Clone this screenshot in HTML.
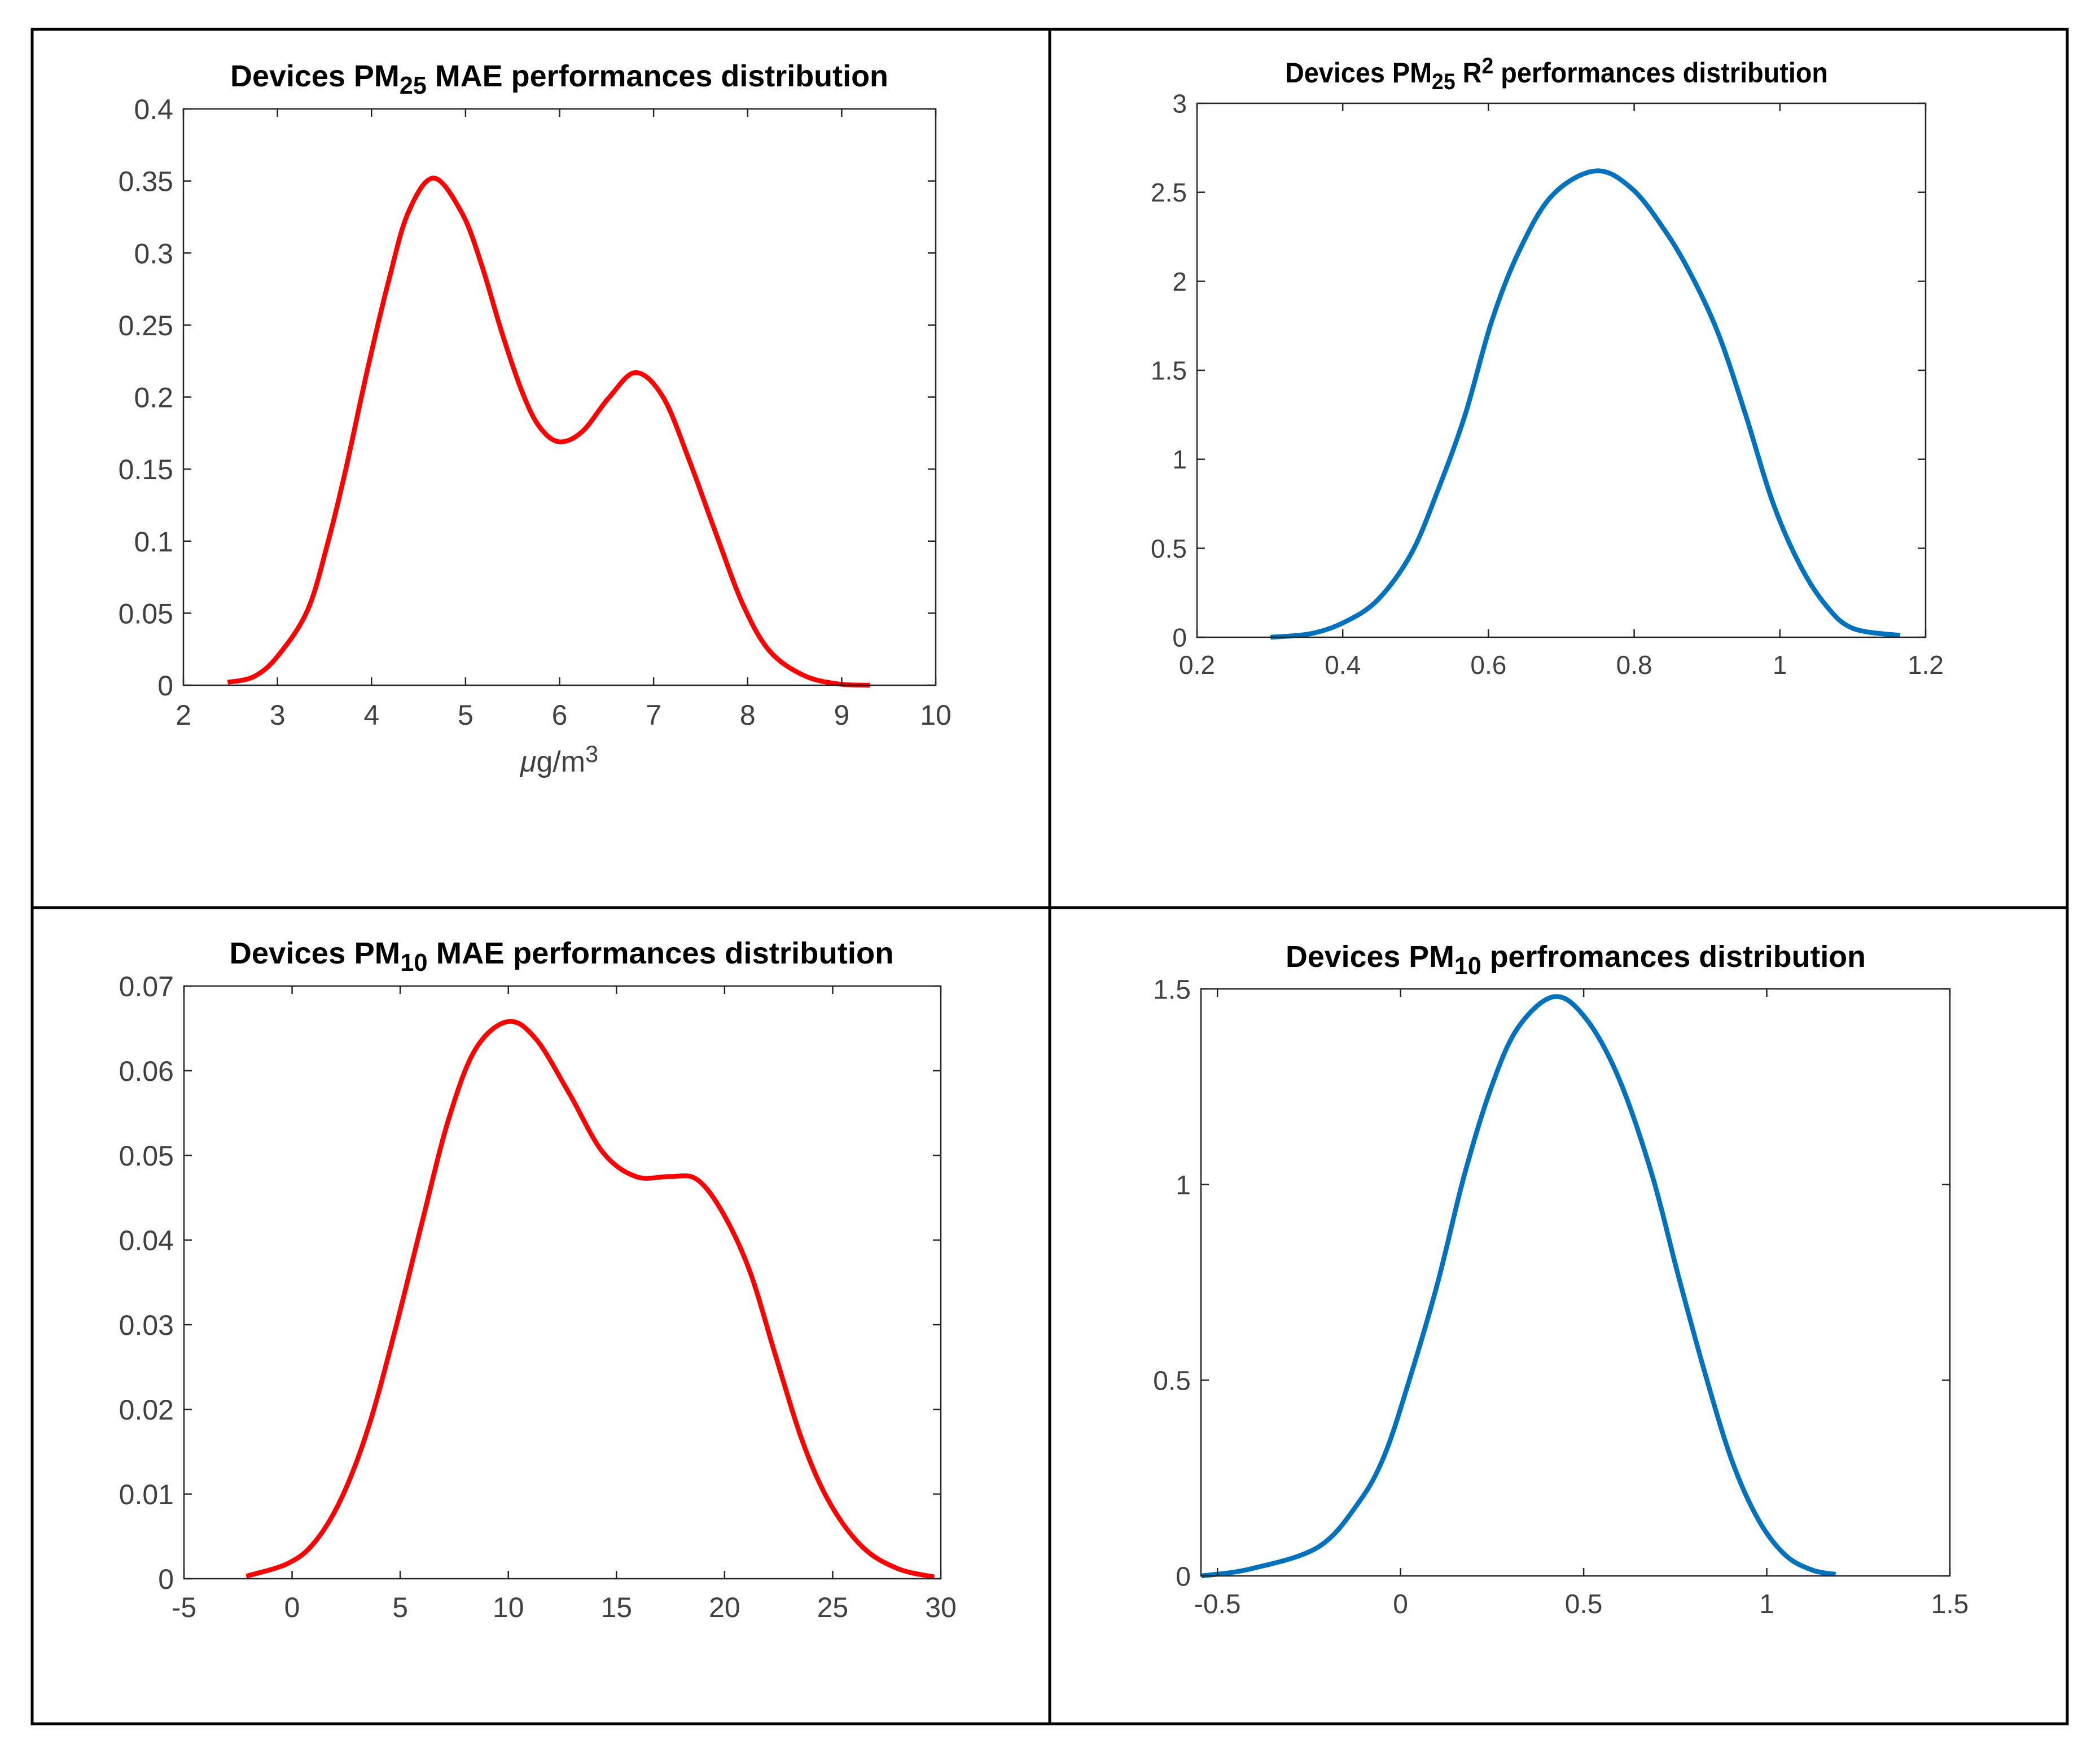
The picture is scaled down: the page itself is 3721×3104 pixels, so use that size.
<!DOCTYPE html>
<html><head><meta charset="utf-8"><style>
html,body{margin:0;padding:0;background:#fff}
svg{display:block}
text{font-family:"Liberation Sans",Arial,sans-serif}
</style></head><body>
<svg id="fig" xmlns="http://www.w3.org/2000/svg" width="3721" height="3104" viewBox="0 0 3721 3104">
<rect x="0" y="0" width="3721" height="3104" fill="#fff"/>
<rect x="57" y="52" width="3606" height="3002" fill="none" stroke="#000" stroke-width="5"/>
<line x1="1860" y1="52" x2="1860" y2="3054" stroke="#000" stroke-width="5"/>
<line x1="57" y1="1608" x2="3663" y2="1608" stroke="#000" stroke-width="5"/>
<g id="panels"></g>
</svg>
<script>
// Panel 1: PM25 MAE
const p1X = [2.47,2.75,3.0,3.32,3.54,3.72,3.96,4.18,4.39,4.66,4.96,5.17,5.39,5.6,5.78,5.99,6.24,6.53,6.81,7.1,7.38,7.67,7.95,8.23,8.59,8.95,9.3];
const p1Y = [0.002,0.006,0.02,0.052,0.1,0.148,0.22,0.28,0.328,0.352,0.328,0.292,0.244,0.204,0.18,0.169,0.176,0.2,0.217,0.2,0.156,0.104,0.056,0.024,0.007,0.001,0];
const p1XTicks = [2,3,4,5,6,7,8,9,10];
const p1XTickLabels = ["2","3","4","5","6","7","8","9","10"];
const p1YTicks = [0,0.05,0.1,0.15,0.2,0.25,0.3,0.35,0.4];
const p1YTickLabels = ["0","0.05","0.1","0.15","0.2","0.25","0.3","0.35","0.4"];
// Panel 2: PM25 R2
const p2X = [0.301,0.356,0.402,0.448,0.494,0.531,0.568,0.604,0.641,0.687,0.747,0.797,0.843,0.879,0.916,0.953,0.99,1.027,1.063,1.1,1.165];
const p2Y = [0,0.02,0.084,0.21,0.47,0.83,1.25,1.77,2.16,2.48,2.62,2.52,2.28,2.03,1.70,1.25,0.76,0.41,0.18,0.05,0.01];
const p2XTicks = [0.2,0.4,0.6,0.8,1,1.2];
const p2XTickLabels = ["0.2","0.4","0.6","0.8","1","1.2"];
const p2YTicks = [0,0.5,1,1.5,2,2.5,3];
const p2YTickLabels = ["0","0.5","1","1.5","2","2.5","3"];
// Panel 3: PM10 MAE
const p3X = [-2.12,-0.2,1.04,2.28,3.52,4.76,6.0,7.23,8.47,9.96,11.26,12.8,14.36,15.9,17.45,18.7,19.9,21.17,22.4,23.65,24.9,26.4,28.0,29.7];
const p3Y = [0.0003,0.0018,0.0043,0.0095,0.0178,0.0293,0.042,0.0542,0.0625,0.0658,0.0638,0.0574,0.0504,0.0475,0.0475,0.0472,0.0433,0.0363,0.026,0.0159,0.0088,0.0037,0.0012,0.0002];
const p3XTicks = [-5,0,5,10,15,20,25,30];
const p3XTickLabels = ["-5","0","5","10","15","20","25","30"];
const p3YTicks = [0,0.01,0.02,0.03,0.04,0.05,0.06,0.07];
const p3YTickLabels = ["0","0.01","0.02","0.03","0.04","0.05","0.06","0.07"];
// Panel 4: PM10 performances
const p4X = [-0.544,-0.409,-0.226,-0.117,-0.044,0.029,0.102,0.175,0.248,0.32,0.418,0.503,0.594,0.686,0.759,0.832,0.905,0.978,1.051,1.124,1.188];
const p4Y = [0,0.018,0.073,0.184,0.308,0.516,0.751,1.027,1.249,1.40,1.48,1.428,1.276,1.027,0.765,0.516,0.294,0.142,0.053,0.015,0.004];
const p4XTicks = [-0.5,0,0.5,1,1.5];
const p4XTickLabels = ["-0.5","0","0.5","1","1.5"];
const p4YTicks = [0,0.5,1,1.5];
const p4YTickLabels = ["0","0.5","1","1.5"];

const NS = "http://www.w3.org/2000/svg";
const root = document.getElementById('panels');
function mk(tag, attrs, parent){
  const e = document.createElementNS(NS, tag);
  for (const k in attrs) e.setAttribute(k, attrs[k]);
  parent.appendChild(e);
  return e;
}
function smoothPath(pts){
  let d = "M" + pts[0][0].toFixed(1) + "," + pts[0][1].toFixed(1);
  for (let i=0;i<pts.length-1;i++){
    const p0 = pts[i-1]||pts[i], p1 = pts[i], p2 = pts[i+1], p3 = pts[i+2]||p2;
    const c1x = p1[0]+(p2[0]-p0[0])/6, c1y = p1[1]+(p2[1]-p0[1])/6;
    const c2x = p2[0]-(p3[0]-p1[0])/6, c2y = p2[1]-(p3[1]-p1[1])/6;
    d += " C"+c1x.toFixed(1)+","+c1y.toFixed(1)+" "+c2x.toFixed(1)+","+c2y.toFixed(1)+" "+p2[0].toFixed(1)+","+p2[1].toFixed(1);
  }
  return d;
}
function panel(cfg){
  const g = mk('g', {}, root);
  
  
  const L=cfg.L,R=cfg.R,T=cfg.T,B=cfg.B;
  const sx = v => L + (v-cfg.xmin)/(cfg.xmax-cfg.xmin)*(R-L);
  const sy = v => B - (v-cfg.ymin)/(cfg.ymax-cfg.ymin)*(B-T);
  const t = mk('text', {x:(cfg.tcx).toString(), y:cfg.ty, 'text-anchor':'middle', 'font-size':cfg.tfs, 'font-weight':'bold', fill:'#000', textLength:cfg.tw, lengthAdjust:'spacingAndGlyphs'}, g);
  
  
  cfg.title(t);
  const pts = cfg.xs.map((x,i)=>[sx(x), sy(cfg.ys[i])]);
  const c = mk('path', {d:smoothPath(pts), fill:'none', stroke:cfg.color, 'stroke-width':8.5, 'stroke-linejoin':'round'}, g);
  
  
  const bx = mk('rect', {x:L, y:T, width:R-L, height:B-T, fill:'none', stroke:'#262626', 'stroke-width':2.5}, g);
  
  
  const tk = 14;
  cfg.xticks.forEach((v,i)=>{
    const x = sx(v);
    mk('line', {x1:x,y1:B,x2:x,y2:B-tk,stroke:'#262626','stroke-width':2.5}, g);
    mk('line', {x1:x,y1:T,x2:x,y2:T+tk,stroke:'#262626','stroke-width':2.5}, g);
    const lb = mk('text', {x:x, y:B+cfg.xlo, 'text-anchor':'middle','font-size':cfg.fs, fill:'#404040'}, g);
    
    
    lb.textContent = cfg.xlabels[i];
  });
  cfg.yticks.forEach((v,i)=>{
    const y = sy(v);
    mk('line', {x1:L,y1:y,x2:L+tk,y2:y,stroke:'#262626','stroke-width':2.5}, g);
    mk('line', {x1:R,y1:y,x2:R-tk,y2:y,stroke:'#262626','stroke-width':2.5}, g);
    const lb = mk('text', {x:L-18, y:y+cfg.fs*0.36, 'text-anchor':'end','font-size':cfg.fs, fill:'#404040'}, g);
    
    
    lb.textContent = cfg.ylabels[i];
  });
  return g;
}
function sub(t, parts){
  parts.forEach(p=>{
    const s = document.createElementNS(NS,'tspan');
    if (p[1]==='sub'){ s.setAttribute('baseline-shift','-30%'); s.setAttribute('font-size','80%'); }
    if (p[1]==='sup'){ s.setAttribute('baseline-shift','40%'); s.setAttribute('font-size','80%'); }
    s.textContent = p[0];
    t.appendChild(s);
  });
}
const g1 = panel({name:'pm25-mae-panel', L:325,R:1658,T:193,B:1214, xmin:2,xmax:10,ymin:0,ymax:0.4,
  xs:p1X, ys:p1Y, xticks:p1XTicks, xlabels:p1XTickLabels, yticks:p1YTicks, ylabels:p1YTickLabels,
  color:'#ff0000', fs:50, xlo:70, tcx:991, ty:153, tfs:54, tw:1166,
  title:t=>sub(t,[["Devices PM",""],["25","sub"],[" MAE performances distribution",""]])});
const xl = mk('text', {x:991, y:1367, 'text-anchor':'middle','font-size':52, fill:'#404040'}, g1);


sub(xl, [["μ",""],["g/m",""],["3","sup"]]);
xl.firstChild.setAttribute('font-style','italic');

panel({name:'pm25-r2-panel', L:2121,R:3412,T:183,B:1129, xmin:0.2,xmax:1.2,ymin:0,ymax:3,
  xs:p2X, ys:p2Y, xticks:p2XTicks, xlabels:p2XTickLabels, yticks:p2YTicks, ylabels:p2YTickLabels,
  color:'#0072bd', fs:46, xlo:65, tcx:2758, ty:146, tfs:50, tw:962,
  title:t=>sub(t,[["Devices PM",""],["25","sub"],[" R",""],["2","sup"],[" performances distribution",""]])});

panel({name:'pm10-mae-panel', L:326,R:1667,T:1747,B:2797, xmin:-5,xmax:30,ymin:0,ymax:0.07,
  xs:p3X, ys:p3Y, xticks:p3XTicks, xlabels:p3XTickLabels, yticks:p3YTicks, ylabels:p3YTickLabels,
  color:'#ff0000', fs:50, xlo:68, tcx:995, ty:1707, tfs:54, tw:1177,
  title:t=>sub(t,[["Devices PM",""],["10","sub"],[" MAE performances distribution",""]])});

panel({name:'pm10-performance-panel', L:2128,R:3455,T:1752,B:2792, xmin:-0.545,xmax:1.5,ymin:0,ymax:1.5,
  xs:p4X, ys:p4Y, xticks:p4XTicks, xlabels:p4XTickLabels, yticks:p4YTicks, ylabels:p4YTickLabels,
  color:'#0072bd', fs:48, xlo:66, tcx:2792, ty:1713, tfs:54, tw:1028,
  title:t=>sub(t,[["Devices PM",""],["10","sub"],[" perfromances distribution",""]])});
</script>
</body></html>
